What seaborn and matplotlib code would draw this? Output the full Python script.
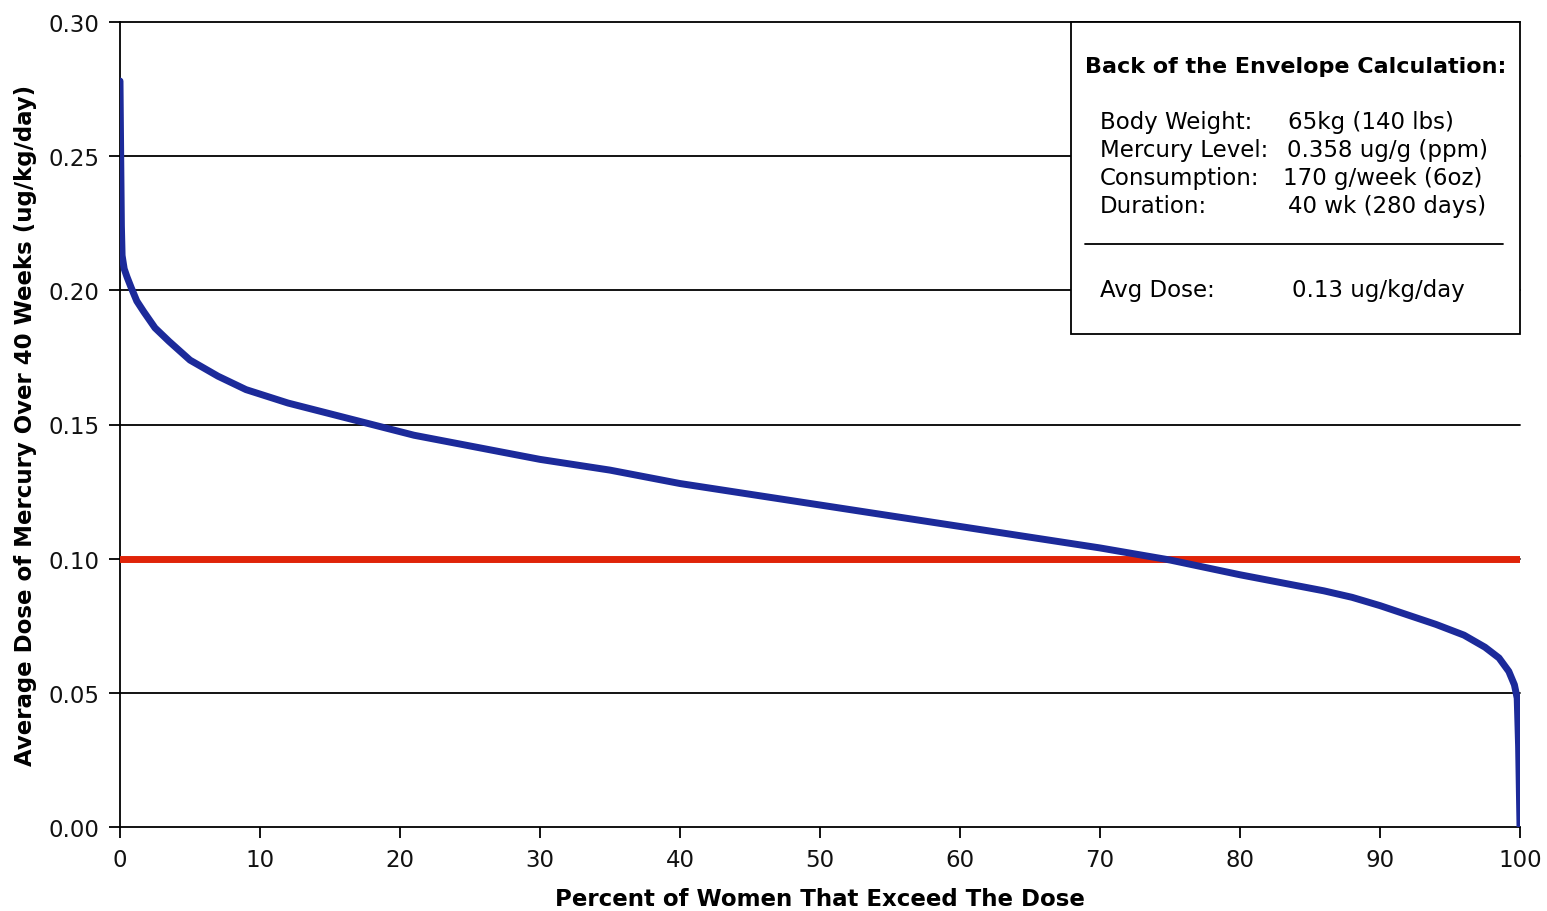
import matplotlib
matplotlib.use("Agg")
import matplotlib.pyplot as plt
import seaborn as sns
import pandas as pd
from matplotlib.patches import Rectangle

# Dados
pct_exceed = [0, 0.05, 0.1, 0.15, 0.3, 0.5, 0.8, 1.2, 1.7, 2.5, 3.5, 5, 7, 9, 12, 15,
              18, 21, 25, 30, 35, 40, 45, 50, 55, 60, 65, 70, 75, 80, 84, 86, 88, 90,
              92, 94, 96, 97.5, 98.5, 99.2, 99.6, 99.8, 99.9, 100]
avg_dose = [0.278, 0.250, 0.224, 0.213, 0.208, 0.205, 0.201, 0.196, 0.192, 0.186, 0.181,
            0.174, 0.168, 0.163, 0.158, 0.154, 0.150, 0.146, 0.142, 0.137, 0.133, 0.128,
            0.124, 0.120, 0.116, 0.112, 0.108, 0.104, 0.0995, 0.094, 0.090, 0.088,
            0.0856, 0.0825, 0.079, 0.0755, 0.0715, 0.067, 0.063, 0.058, 0.053, 0.048,
            0.030, 0.0]
ref_x = [0, 100]
ref_dose = [0.10, 0.10]

x_ticks = [0, 10, 20, 30, 40, 50, 60, 70, 80, 90, 100]
y_ticks = [0.00, 0.05, 0.10, 0.15, 0.20, 0.25, 0.30]

box_title = "Back of the Envelope Calculation:"
box_labels = ["Body Weight:", "Mercury Level:", "Consumption:", "Duration:"]
box_values = ["65kg (140 lbs)", "0.358 ug/g (ppm)", "170 g/week (6oz)", "40 wk (280 days)"]
avg_label = "Avg Dose:"
avg_value = "0.13 ug/kg/day"

curve_df = pd.DataFrame({"pct": pct_exceed, "dose": avg_dose})
ref_df = pd.DataFrame({"pct": ref_x, "dose": ref_dose})

sns.set_theme(style="white")
plt.rcParams['font.family'] = ['DejaVu Sans']
plt.rcParams['text.color'] = 'black'

fig = plt.figure(figsize=(15.47, 9.12), dpi=100)
ax = fig.add_axes([120 / 1547, 1 - 828 / 912, 1400 / 1547, 805 / 912])

sns.lineplot(data=ref_df, x="pct", y="dose", ax=ax, color="#e02408",
             linewidth=5, zorder=3)
sns.lineplot(data=curve_df, x="pct", y="dose", ax=ax, color="#1c2a9a",
             linewidth=5, zorder=4, sort=False)

ax.set_xlim(0, 100)
ax.set_ylim(0, 0.30)
ax.set_xticks(x_ticks)
ax.set_yticks(y_ticks)
ax.set_yticklabels([f"{v:.2f}" for v in y_ticks])

# linhas de grade horizontais pretas
for v in y_ticks[1:]:
    ax.axhline(v, color="black", linewidth=1.3, zorder=1, clip_on=False)

for side in ["top", "right"]:
    ax.spines[side].set_visible(False)
for side in ["left", "bottom"]:
    ax.spines[side].set_color("black")
    ax.spines[side].set_linewidth(1.3)

ax.tick_params(axis="both", which="major", direction="out", length=8, width=1.3,
               color="black", labelsize=16.5, labelcolor="#111111", pad=7,
               left=True, bottom=True)

ax.set_xlabel("Percent of Women That Exceed The Dose", fontsize=16.5,
              fontweight="bold", labelpad=12, color="black")
ax.set_ylabel("Average Dose of Mercury Over 40 Weeks (ug/kg/day)", fontsize=16.5,
              fontweight="bold", labelpad=8, color="black")

# caixa de texto (em pixels convertidos para coordenadas de dados)
def px_x(p):
    return (p - 120) / 14.0

def px_y(p):
    return (828 - p) / 2683.3

ax.add_patch(Rectangle((px_x(1071), px_y(335)), px_x(1520) - px_x(1071),
                       0.30 - px_y(335), facecolor="white", edgecolor="black",
                       linewidth=1.3, zorder=6, clip_on=False))
ax.text(px_x(1085), px_y(67), box_title, fontsize=16, fontweight="bold",
        va="center", ha="left", zorder=7)
value_x = [1288, 1287, 1283, 1288]
row_y = [123, 151, 179, 207]
for lab, val, vx, ry in zip(box_labels, box_values, value_x, row_y):
    ax.text(px_x(1100), px_y(ry), lab, fontsize=16.5, va="center", ha="left", zorder=7)
    ax.text(px_x(vx), px_y(ry), val, fontsize=16.5, va="center", ha="left", zorder=7)
ax.plot([px_x(1085), px_x(1503)], [px_y(245), px_y(245)], color="black",
        linewidth=1.3, zorder=7)
ax.text(px_x(1100), px_y(291), avg_label, fontsize=16.5, va="center", ha="left", zorder=7)
ax.text(px_x(1292), px_y(291), avg_value, fontsize=16.5, va="center", ha="left", zorder=7)

fig.savefig("out.png", dpi=100)
